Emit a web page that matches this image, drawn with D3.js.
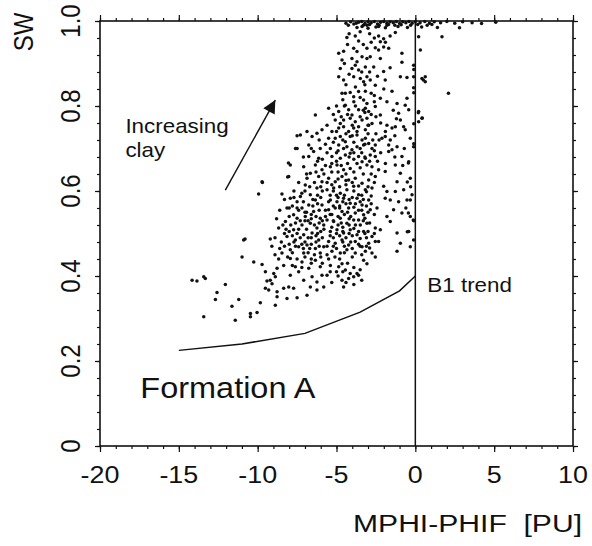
<!DOCTYPE html>
<html>
<head>
<meta charset="utf-8">
<script src="https://cdn.jsdelivr.net/npm/d3@7/dist/d3.min.js"></script>
<style>
  body { margin: 0; background: #fff; }
  text { font-family: "Liberation Sans", Arial, Helvetica, sans-serif; fill: #111; }
</style>
</head>
<body>
<script>
// axis ticks
var xTicks = [-20, -15, -10, -5, 0, 5, 10];
var yTicks = [0, 0.2, 0.4, 0.6, 0.8, 1.0];
var yTickLabels = ["0", "0.2", "0.4", "0.6", "0.8", "1.0"];
var xMinor = d3.range(-20, 11, 1);
var yMinor = [0, .04, .08, .12, .16, .2, .24, .28, .32, .36, .4, .44, .48, .52, .56, .6, .64, .68, .72, .76, .8, .84, .88, .92, .96, 1];

// B1 trend line
var trendX  = [-15, -11, -7, -3.5, -1, 0];
var trendSW = [0.225, 0.24, 0.265, 0.315, 0.365, 0.40];

// points [MPHI-PHIF, SW]
var topRow = [[-4.4,.995],[-4.1,.998],[-3.9,.993],[-3.6,.997],[-3.4,.999],[-3.2,.994],[-3.0,.998],[-2.8,.996],[-2.6,.999],[-2.4,.993],[-2.2,.997],[-2.0,.999],[-1.8,.995],[-1.6,.998],[-1.4,.996],[-1.2,.999],[-1.0,.994],[-0.8,.998],[-0.6,.996],[-0.4,.999],[-0.2,.995],[0.0,.998],[0.3,.996],[0.6,.999],[0.9,.995],[1.2,.998],[1.6,.996],[2.0,.999],[2.5,.995],[3.0,.998],[3.6,.996],[4.2,.994],[5.1,.997],[-3.7,.985],[-3.0,.983],[-2.5,.986],[-1.9,.984],[-1.1,.987],[-0.5,.985],[0.4,.986],[1.4,.985],[2.8,.984],
  [-4.25,.99],[-3.75,.995],[-3.3,.99],[-2.9,.992],[-2.3,.99],[-1.7,.992],[-1.3,.99],[-0.9,.991],[-0.3,.99],[0.15,.992],[0.75,.99],[1.05,.992]];

var upperPts = [[-3.38,.987],[-3.07,.99],[-2.33,.987],[-1.8,.99],[-4.34,.961],[-3.81,.965],[-3.6,.953],[-2.33,.965],[-2.01,.958],[-2.22,.951],[-1.27,.973],[0.21,.963],[1.69,.963],[-4.86,.924],[-4.55,.929],[-3.91,.936],[-3.7,.928],[-3.07,.936],[-2.54,.937],[-2.33,.932],[-2.01,.939],[-1.69,.936],[-0.85,.924],[0.32,.932],[-4.65,.908],[-4.02,.912],[-3.7,.904],[-3.38,.916],[-3.07,.912],[-2.86,.916],[-2.22,.912],[-0.85,.903],[-0.11,.896],[-4.76,.888],[-4.02,.888],[-3.81,.896],[-3.6,.885],[-3.17,.892],[-2.64,.892],[-2.01,.881],[-0.95,.869],[-0.53,.867],[0.42,.865],[0.63,.869],[0.63,.857],[-4.86,.869],[-4.55,.861],[-3.91,.869],[-3.49,.865],[-3.28,.857],[-3.07,.869],[-2.86,.861],[-2.54,.849],[-1.91,.861],[-0.11,.869],[-4.65,.83],[-4.44,.83],[-4.13,.832],[-3.6,.834],[-3.17,.835],[-1.48,.835],[-0.11,.843],[2.1,.83],[0.19,.784],[0.44,.772],[0.51,.861],[-0.1,.886],[-0.1,.831],[-0.1,.758],[-0.1,.711],[-0.1,.53],
  [-4.2,.97],[-3.5,.975],[-2.9,.97],[-2.6,.96],[-1.6,.965],[-3.3,.945],[-2.8,.95],[-1.9,.95],[-4.3,.945],[-4.5,.9],[-4.2,.875],[-3.4,.88],[-2.9,.88],[-2.4,.87],[-1.6,.89],[-3.2,.85],[-3.8,.845],[-4.4,.85],[-2.0,.84],[-2.8,.83],[-3.9,.81],[-3.5,.82],[-2.6,.825],[-1.8,.81],[-4.6,.815]];

var midPts = [[-3.91,.822],[-3.28,.814],[-3.07,.806],[-2.22,.818],[-1.16,.806],[-0.53,.818],[-0.64,.802],[-0.42,.791],[-5.5,.795],[-4.86,.787],[-4.44,.802],[-4.23,.791],[-4.02,.779],[-3.6,.791],[-3.17,.795],[-2.96,.787],[-2.54,.799],[-2.22,.779],[-1.06,.783],[0.21,.787],[0.42,.771],[0.21,.763],[-5.08,.767],[-4.76,.759],[-4.55,.767],[-4.13,.771],[-3.81,.763],[-3.38,.767],[-3.07,.771],[-2.75,.759],[-5.29,.74],[-4.86,.748],[-4.55,.751],[-4.23,.74],[-3.91,.748],[-3.6,.751],[-3.17,.744],[-2.96,.755],[-1.8,.755],[-1.48,.748],[-1.27,.751],[-0.95,.767],[-0.74,.751],[-0.64,.744],[-5.5,.724],[-5.08,.724],[-4.76,.728],[-4.44,.716],[-4.13,.728],[-3.7,.732],[-3.38,.72],[-3.17,.724],[-2.96,.712],[-2.54,.708],[-2.12,.724],[-1.91,.728],[-1.59,.72],[-0.32,.724],[-0.11,.704],[-5.39,.7],[-4.86,.708],[-4.55,.7],[-4.34,.704],[-4.02,.697],[-3.7,.704],[-3.28,.708],[-2.75,.7],[-1.69,.708],[-1.48,.697],[-1.16,.704],[-5.29,.681],[-4.76,.677],[-4.44,.685],[-4.13,.689],[-3.6,.681],[-3.17,.677],[-2.86,.685],[-2.54,.681],[-1.69,.693],[-0.85,.681],[-0.42,.669],[-5.39,.657],[-4.97,.661],[-4.55,.65],[-4.13,.653],[-3.7,.665],[-3.38,.669],[-3.07,.661],[-2.75,.657],[-2.33,.65],[-1.91,.646],[-1.27,.661],[-0.95,.642],[-0.44,.666],[-0.51,.621],[-0.32,.579],[-0.44,.548],[-0.13,.532],[-0.51,.504],
  [-6.34,.779],[-6.87,.74],[-7.29,.732],[-6.55,.728],[-6.24,.736],[-5.92,.744],[-7.5,.7],[-6.76,.708],[-6.45,.693],[-6.03,.7],[-6.76,.681],[-6.13,.677],[-7.93,.661],[-7.08,.657],[-6.34,.661],[-5.92,.65],[-6.66,.642],
  [-7.5,.73],[-7.6,.70],[-8.05,.666],[-8.1,.633],
  [-5.7,.66],[-5.0,.67],[-4.3,.665],[-3.5,.655],[-2.9,.67],[-5.6,.69],[-4.9,.695],[-4.2,.68],[-3.4,.69],[-2.6,.695],[-5.2,.715],[-4.6,.72],[-3.9,.715],[-3.2,.71],[-2.7,.72],[-5.0,.74],[-4.4,.735],[-3.7,.74],[-3.0,.735],[-4.7,.775],[-4.0,.755],[-3.5,.775],[-2.8,.78],[-4.5,.8],[-3.8,.8],[-3.2,.785],[-2.6,.81],
  [-5.0,.8],[-4.3,.78],[-3.3,.79],[-2.5,.775],[-1.4,.79],[-5.2,.78],[-3.0,.755],[-2.2,.76],[-1.2,.77],[-5.6,.755],[-4.0,.73],[-2.5,.735],[-1.9,.74],[-5.7,.71],[-3.5,.7],[-2.3,.72],[-1.3,.73],[-6.1,.72],[-5.0,.69],[-3.9,.69],[-2.2,.69],[-1.3,.68],[-6.6,.7],[-0.7,.7],[-0.8,.66],[-0.3,.61],[-0.6,.56]];

var corePts = [[-9.72,.622],[-9.94,.593],[-8.46,.593],[-10.89,.485],[-9.2,.487],[-8.03,.634],[-9.7,.62],[-10.8,.487],
  [-7.93,.583],[-7.5,.575],[-6.98,.614],[-6.66,.591],[-6.24,.607],[-5.92,.622],[-6.87,.63],[-6.13,.634],[-8.14,.56],[-7.72,.544],[-7.19,.56],[-6.76,.567],[-6.34,.579],[-5.92,.567],[-7.29,.587],[-8.24,.528],[-7.5,.536],[-6.98,.54],[-6.45,.552],[-6.03,.536],[-7.72,.509],[-7.19,.52],[-6.66,.524],[-6.24,.513],[-5.81,.52],[-8.67,.513],[-8.14,.493],[-7.61,.485],[-7.08,.497],[-6.55,.501],[-6.13,.485],[-7.93,.462],[-7.4,.469],[-6.87,.473],[-6.34,.465],[-5.81,.469],[-8.46,.454],[-7.08,.454],[-6.03,.454],
  [-5.5,.63],[-5.08,.622],[-4.65,.634],[-4.23,.626],[-3.81,.63],[-3.38,.618],[-2.96,.626],[-2.54,.634],[-5.6,.603],[-5.18,.607],[-4.76,.595],[-4.34,.603],[-3.91,.611],[-3.6,.591],[-3.17,.603],[-2.75,.607],[-5.39,.579],[-4.97,.575],[-4.55,.583],[-4.13,.571],[-3.7,.583],[-3.38,.567],[-2.96,.579],[-5.5,.556],[-5.08,.56],[-4.65,.552],[-4.23,.56],[-3.81,.548],[-3.28,.544],[-2.86,.556],[-5.6,.532],[-5.18,.528],[-4.76,.536],[-4.34,.524],[-3.91,.532],[-3.49,.52],[-3.07,.524],[-5.39,.505],[-4.97,.509],[-4.55,.501],[-4.13,.509],[-3.7,.497],[-3.28,.505],[-2.75,.493],[-5.5,.481],[-5.08,.477],[-4.65,.485],[-4.23,.473],[-3.81,.481],[-3.38,.469],[-2.96,.477],[-2.54,.481],[-5.29,.458],[-4.76,.454],[-4.34,.462],[-3.81,.454],[-3.17,.458],[-2.75,.454],
  [-2.01,.611],[-1.8,.599],[-1.16,.622],[-1.27,.599],[-0.74,.603],[-0.32,.63],[-0.21,.591],[-1.91,.583],[-1.59,.579],[-0.53,.579],[-1.06,.575],[-2.43,.56],[-1.38,.556],[-0.85,.548],[-1.8,.54],[-0.32,.54],[-1.59,.528],[-2.54,.513],[-2.22,.509],[-1.16,.501],[-0.42,.505],[-2.33,.481],[-0.95,.477],[-0.11,.485],[-1.16,.458],[-0.32,.469],
  [-5.3,.615],[-4.9,.628],[-4.4,.615],[-4.0,.62],[-3.6,.612],[-3.1,.598],[-2.8,.588],[-5.4,.59],[-4.9,.585],[-4.5,.59],[-4.0,.585],[-3.5,.575],[-3.1,.565],[-5.2,.565],[-4.8,.56],[-4.4,.57],[-3.9,.562],[-3.6,.555],[-2.6,.545],[-5.4,.545],[-4.9,.54],[-4.5,.545],[-4.1,.54],[-3.6,.532],[-3.2,.536],[-5.3,.515],[-4.9,.52],[-4.6,.515],[-4.2,.52],[-3.9,.512],[-3.0,.505],[-5.2,.49],[-4.8,.495],[-4.4,.49],[-4.0,.495],[-3.5,.488],[-3.1,.49],[-5.0,.465],[-4.5,.47],[-4.0,.465],[-3.5,.47],[-2.9,.466],
  [-7.7,.6],[-7.2,.595],[-6.4,.62],[-6.2,.59],[-5.9,.6],[-7.8,.565],[-7.4,.555],[-6.9,.55],[-6.5,.565],[-6.1,.555],[-8.0,.54],[-7.3,.53],[-6.8,.53],[-6.3,.54],[-5.9,.53],[-8.4,.52],[-7.9,.52],[-7.4,.51],[-6.9,.51],[-6.4,.52],[-6.0,.505],[-8.3,.5],[-7.8,.495],[-7.3,.49],[-6.8,.49],[-6.3,.495],[-5.9,.49],[-8.0,.475],[-7.6,.47],[-7.1,.465],[-6.6,.475],[-6.1,.47],[-8.6,.465],[-7.8,.455],[-6.8,.455],[-6.4,.45]];

var coreExtra = [[-7.4,.62],[-7.0,.6],[-6.7,.61],[-6.0,.61],[-5.6,.62],[-5.2,.6],[-4.8,.61],[-4.4,.625],[-3.9,.6],[-3.4,.59],[-3.0,.61],[-2.6,.62],
  [-8.3,.58],[-7.7,.585],[-7.1,.575],[-6.5,.58],[-6.0,.585],[-5.5,.575],[-5.0,.59],[-4.6,.575],[-4.2,.58],[-3.3,.58],[-2.8,.57],
  [-8.6,.555],[-8.0,.56],[-7.5,.56],[-7.0,.55],[-6.6,.545],[-6.2,.57],[-5.7,.555],[-5.3,.545],[-4.8,.565],[-4.3,.55],[-3.8,.57],[-3.4,.555],[-3.0,.55],
  [-8.8,.535],[-8.2,.51],[-7.6,.525],[-7.0,.53],[-6.6,.535],[-6.1,.525],[-5.7,.54],[-5.2,.53],[-4.7,.525],[-4.2,.535],[-3.8,.52],[-3.3,.53],[-2.9,.525],
  [-8.9,.49],[-8.5,.48],[-8.0,.505],[-7.5,.5],[-7.0,.48],[-6.6,.49],[-6.2,.5],[-5.8,.51],[-5.4,.495],[-5.0,.5],[-4.6,.505],[-4.2,.5],[-3.6,.505],[-3.2,.5],[-2.6,.5],
  [-9.1,.47],[-8.3,.47],[-7.7,.48],[-7.2,.475],[-6.7,.465],[-6.3,.48],[-5.6,.47],[-5.2,.47],[-4.6,.48],[-4.1,.48],[-3.6,.475],[-3.1,.47],
  [-8.9,.45],[-8.1,.445],[-7.5,.44],[-7.0,.445],[-6.6,.44],[-6.0,.445],[-5.6,.45],[-5.1,.445],[-4.5,.455],[-4.0,.445],[-3.4,.45],
  [-7.8,.425],[-7.2,.42],[-6.6,.43],[-5.4,.41],[-4.6,.41],
  [-6.9,.64],[-6.3,.645],[-5.8,.64],[-5.3,.645],[-4.9,.645],[-4.4,.64],[-3.9,.645],[-3.3,.64],[-2.8,.64],
  [-7.1,.68],[-6.2,.67],[-5.9,.675],[-5.3,.665],[-4.7,.66],[-3.9,.675],[-3.2,.68],[-2.4,.67],[-1.9,.665]];

var lowerPts = [[-14.16,.39],[-13.85,.388],[-13.42,.398],[-13.32,.394],[-12.05,.38],[-12.58,.361],[-12.68,.345],[-13.42,.304],[-11.63,.329],[-11.2,.345],[-11.42,.296],[-10.46,.312],[-10.46,.304],[-10.04,.314],[-9.83,.337],[-10.99,.445],[-10.25,.433],[-9.72,.427],[-8.88,.331],[-8.77,.418],[-8.67,.44],[-9.51,.41],[-9.41,.388],[-9.51,.371],[-9.2,.39],[-9.09,.382],[-8.98,.406],[-8.88,.398],[-9.3,.367],[-8.77,.363],[-8.35,.371],[-8.03,.374],[-7.72,.371],[-8.77,.351],[-8.14,.347],[-7.5,.349],[-6.87,.355],[-6.24,.367],[-8.35,.425],[-7.93,.441],[-7.61,.422],[-7.93,.402],[-7.4,.41],[-7.08,.39],[-7.19,.433],[-6.76,.418],[-6.55,.398],[-6.34,.437],[-6.03,.422],[-5.92,.402],[-6.24,.386],[-5.81,.374],[-6.66,.374],
  [-5.39,.425],[-4.86,.422],[-4.65,.429],[-4.44,.414],[-4.13,.406],[-4.23,.394],[-3.91,.398],[-3.7,.406],[-3.6,.402],[-4.55,.374],[-4.65,.39],[-3.28,.437],[-3.07,.429],[-5.6,.402],[-2.54,.445],
  [-5.9,.43],[-5.5,.44],[-5.0,.41],[-4.8,.44],[-4.3,.43],[-3.9,.42],[-3.5,.415],[-5.3,.385],[-4.9,.4],[-4.4,.385],[-3.9,.38],[-3.4,.39]];

var W = 592, H = 546;
var svg = d3.select("body").append("svg")
  .attr("width", W)
  .attr("height", H);

var x = d3.scaleLinear().domain([-20, 10]).range([100, 573]);
var y = d3.scaleLinear().domain([0, 1]).range([446, 21]);
var sx = 1.12; // scan is a bit wider than tall

// ticks on all four sides, outward
function ticks(axisFn, scale, vals, size, tr) {
  var g = svg.append("g")
    .attr("transform", tr)
    .call(axisFn(scale).tickValues(vals).tickSize(size).tickFormat(""));
  g.select(".domain").remove();
  g.selectAll("line").attr("stroke", "#111").attr("stroke-width", 1.2);
}
ticks(d3.axisBottom, x, xMinor, 3, "translate(0,446)");
ticks(d3.axisBottom, x, xTicks, 6, "translate(0,446)");
ticks(d3.axisTop, x, xMinor, 3, "translate(0,21)");
ticks(d3.axisTop, x, xTicks, 6, "translate(0,21)");
ticks(d3.axisLeft, y, yMinor, 3, "translate(100,0)");
ticks(d3.axisLeft, y, yTicks, 5, "translate(100,0)");
ticks(d3.axisRight, y, yMinor, 3, "translate(573,0)");
ticks(d3.axisRight, y, yTicks, 5, "translate(573,0)");

// frame
svg.append("rect")
  .attr("x", 100).attr("y", 21)
  .attr("width", 473).attr("height", 425)
  .attr("fill", "none").attr("stroke", "#111").attr("stroke-width", 1.6);

// x=0 line
svg.append("line")
  .attr("x1", x(0)).attr("x2", x(0))
  .attr("y1", y(0)).attr("y2", y(1))
  .attr("stroke", "#111").attr("stroke-width", 1.5);

// trend line
var trend = trendX.map(function(d, i) { return [d, trendSW[i]]; });
svg.append("path")
  .datum(trend)
  .attr("fill", "none").attr("stroke", "#111").attr("stroke-width", 1.5)
  .attr("d", d3.line().x(function(d) { return x(d[0]); }).y(function(d) { return y(d[1]); }));

// points
var allPts = topRow.concat(upperPts, midPts, corePts, coreExtra, lowerPts);
svg.append("g").selectAll("circle")
  .data(allPts)
  .join("circle")
  .attr("cx", function(d) { return x(d[0]); })
  .attr("cy", function(d) { return y(d[1]); })
  .attr("r", 1.75)
  .attr("fill", "#111");

// tick labels
xTicks.forEach(function(v) {
  svg.append("text")
    .attr("transform", "translate(" + x(v) + ",483) scale(" + sx + ",1)")
    .attr("text-anchor", "middle")
    .style("font-size", "24px")
    .text(v);
});
yTicks.forEach(function(v, i) {
  svg.append("text")
    .attr("transform", "translate(80," + y(v) + ") scale(" + sx + ",1) rotate(-90)")
    .attr("text-anchor", "middle")
    .style("font-size", "24px")
    .text(yTickLabels[i]);
});

// axis titles
svg.append("text")
  .attr("transform", "translate(33,32) scale(" + sx + ",1) rotate(-90)")
  .attr("text-anchor", "middle")
  .style("font-size", "24px")
  .text("SW");
svg.append("text")
  .attr("x", 353).attr("y", 532)
  .attr("textLength", 229).attr("lengthAdjust", "spacingAndGlyphs")
  .style("font-size", "23px")
  .style("white-space", "pre")
  .text("MPHI-PHIF  [PU]");

// annotations
function label(txt, xv, yv, size) {
  svg.append("text")
    .attr("transform", "translate(" + x(xv) + "," + y(yv) + ") scale(" + sx + ",1)")
    .style("font-size", size + "px")
    .text(txt);
}
label("Increasing", -18.39, 0.736, 20);
label("clay", -18.39, 0.68, 20);
label("Formation A", -17.44, 0.113, 29);
label("B1 trend", 0.76, 0.362, 20);

// arrow
var arrowFrom = [-12.05, 0.602], arrowTo = [-8.88, 0.814];
var defs = svg.append("defs");
defs.append("marker")
  .attr("id", "head")
  .attr("viewBox", "0 0 10 10")
  .attr("refX", 10).attr("refY", 5)
  .attr("markerWidth", 18).attr("markerHeight", 13)
  .attr("markerUnits", "userSpaceOnUse")
  .attr("orient", "auto")
  .append("path")
  .attr("d", "M0,0 L10,5 L0,10 z")
  .attr("fill", "#111");
svg.append("line")
  .attr("x1", x(arrowFrom[0])).attr("y1", y(arrowFrom[1]))
  .attr("x2", x(arrowTo[0])).attr("y2", y(arrowTo[1]))
  .attr("stroke", "#111").attr("stroke-width", 1.4)
  .attr("marker-end", "url(#head)");
</script>
</body>
</html>
